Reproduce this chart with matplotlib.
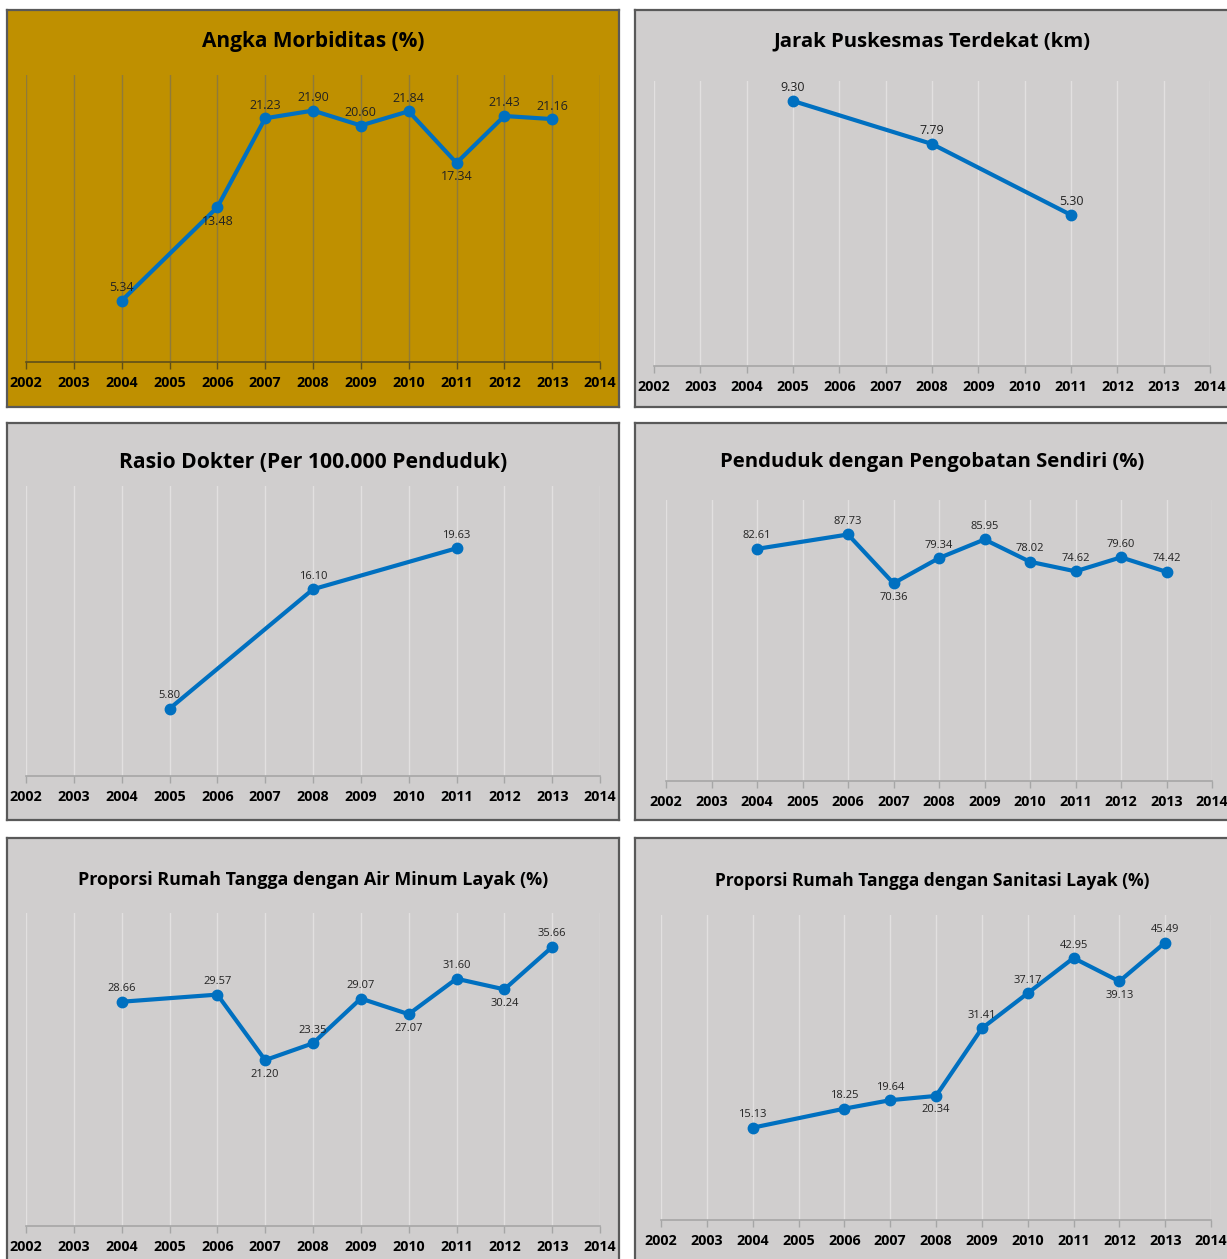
import matplotlib
matplotlib.use("Agg")
import matplotlib.pyplot as plt

W, H = 1227, 1259
plt.rcParams['font.family'] = ['Open Sans', 'DejaVu Sans']

years_all = list(range(2002, 2015))

# data per panel
morb_years = [2004, 2006, 2007, 2008, 2009, 2010, 2011, 2012, 2013]
morb_vals = [5.34, 13.48, 21.23, 21.90, 20.60, 21.84, 17.34, 21.43, 21.16]
morb_below = [13.48, 17.34]

jarak_years = [2005, 2008, 2011]
jarak_vals = [9.30, 7.79, 5.30]

dokter_years = [2005, 2008, 2011]
dokter_vals = [5.80, 16.10, 19.63]

obat_years = [2004, 2006, 2007, 2008, 2009, 2010, 2011, 2012, 2013]
obat_vals = [82.61, 87.73, 70.36, 79.34, 85.95, 78.02, 74.62, 79.60, 74.42]
obat_below = [70.36]

air_years = [2004, 2006, 2007, 2008, 2009, 2010, 2011, 2012, 2013]
air_vals = [28.66, 29.57, 21.20, 23.35, 29.07, 27.07, 31.60, 30.24, 35.66]
air_below = [21.20, 27.07, 30.24]

san_years = [2004, 2006, 2007, 2008, 2009, 2010, 2011, 2012, 2013]
san_vals = [15.13, 18.25, 19.64, 20.34, 31.41, 37.17, 42.95, 39.13, 45.49]
san_below = [20.34, 39.13]

GOLD = '#BF9000'
GRAY = '#D0CECE'
BLUE = '#0070C0'

fig = plt.figure(figsize=(W / 100, H / 100), dpi=100)


def rect(x0, y0, x1, y1):
    # pixel box (top-left origin) -> figure fraction
    return [x0 / W, 1 - y1 / H, (x1 - x0) / W, (y1 - y0) / H]


def panel(frame, box, title, ty, tsize, years, vals, below, ymax, bg, grid_c,
          axis_c, lab_size=9):
    bgax = fig.add_axes(rect(*frame))
    bgax.set_facecolor(bg)
    bgax.set_xticks([])
    bgax.set_yticks([])
    for s in bgax.spines.values():
        s.set_color('#595959')
        s.set_linewidth(1.6)

    fx = (frame[0] + frame[2]) / 2
    fig.text(fx / W, 1 - ty / H, title, ha='center', va='center',
             fontsize=tsize, fontweight='bold', color='black')

    ax = fig.add_axes(rect(*box))
    ax.patch.set_visible(False)
    ax.set_xlim(2002, 2014)
    ax.set_ylim(0, ymax)
    for k in ['top', 'left', 'right']:
        ax.spines[k].set_visible(False)
    ax.spines['bottom'].set_color(axis_c)
    ax.spines['bottom'].set_linewidth(1.2)
    ax.set_yticks([])
    ax.set_xticks(years_all)
    ax.set_xticklabels([str(y) for y in years_all], fontsize=10.3,
                       fontweight='bold', color='black')
    ax.tick_params(axis='x', direction='out', length=5, width=1.0,
                   color=axis_c, pad=5)
    ax.grid(axis='x', color=grid_c, linewidth=1.0)
    ax.set_axisbelow(True)

    ax.plot(years, vals, color=BLUE, linewidth=3.0, marker='o',
            markersize=7.5, solid_joinstyle='round', zorder=3)
    for x, v in zip(years, vals):
        off = -14 if v in below else 13
        ax.annotate(f'{v:.2f}', (x, v), xytext=(0, off),
                    textcoords='offset pixels', ha='center', va='center',
                    fontsize=lab_size, color='#222222', zorder=4)
    return ax


gold_grid = '#8F7A3A'
gold_axis = '#5E4E1A'
g_grid = '#E2E0E0'
g_axis = '#A6A6A6'

panel((7, 10, 619, 407), (26, 75, 600, 362), 'Angka Morbiditas (%)', 41, 15,
      morb_years, morb_vals, morb_below, 25, GOLD, gold_grid, gold_axis)
panel((635, 10, 1229, 407), (654, 81, 1210, 366),
      'Jarak Puskesmas Terdekat (km)', 41, 14.6,
      jarak_years, jarak_vals, [], 10, GRAY, g_grid, g_axis)
panel((7, 423, 619, 820), (26, 486, 600, 776),
      'Rasio Dokter (Per 100.000 Penduduk)', 462, 15.2,
      dokter_years, dokter_vals, [], 25, GRAY, g_grid, g_axis, lab_size=8)
panel((635, 423, 1229, 820), (666, 500, 1212, 781),
      'Penduduk dengan Pengobatan Sendiri (%)', 462, 14.6,
      obat_years, obat_vals, obat_below, 100, GRAY, g_grid, g_axis, lab_size=8)
panel((7, 838, 619, 1275), (26, 913, 600, 1226),
      'Proporsi Rumah Tangga dengan Air Minum Layak (%)', 880, 12.9,
      air_years, air_vals, air_below, 40, GRAY, g_grid, g_axis, lab_size=8)
panel((635, 838, 1229, 1275), (661, 915, 1211, 1220),
      'Proporsi Rumah Tangga dengan Sanitasi Layak (%)', 881, 12.5,
      san_years, san_vals, san_below, 50, GRAY, g_grid, g_axis, lab_size=8)

fig.savefig('out.png', dpi=100, facecolor='white')
